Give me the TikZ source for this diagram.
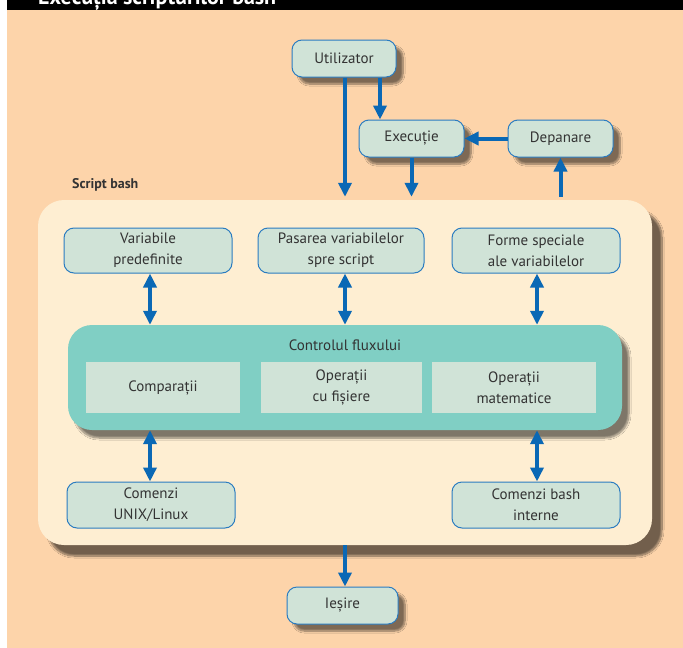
\documentclass[tikz,border=0pt]{standalone}
\usepackage{fontspec}
\setmainfont{PT Sans}
\usetikzlibrary{arrows.meta,shadows.blur}
\definecolor{peach}{HTML}{FDD4AA}
\definecolor{cream}{HTML}{FEEED2}
\definecolor{teal}{HTML}{80CFC4}
\definecolor{nodefill}{HTML}{D0E3D7}
\definecolor{nodeborder}{HTML}{2B7CC0}
\definecolor{arrowcol}{HTML}{0A68B5}
\definecolor{textcol}{HTML}{333333}
\begin{document}
\begin{tikzpicture}[x=1pt,y=-1pt,
  box/.style={draw=nodeborder, line width=1pt, fill=nodefill, rounded corners=10pt,
    align=center, text=textcol, font=\fontsize{15}{21}\selectfont, inner sep=0pt},
  sbox/.style={box, blur shadow={shadow xshift=7pt, shadow yshift=-7pt, shadow blur steps=8, shadow opacity=50}},
  inbox/.style={fill=nodefill, align=center, text=textcol, font=\fontsize{15}{21}\selectfont, inner sep=0pt},
  arr/.style={draw=arrowcol, line width=4pt, -{Triangle[length=14pt,width=13pt]}},
  darr/.style={draw=arrowcol, line width=4pt, {Triangle[length=14pt,width=13pt]}-{Triangle[length=14pt,width=13pt]}}]
\useasboundingbox (0,0) rectangle (683,648);
\fill[white] (0,0) rectangle (683,648);
\fill[peach] (7,10) rectangle (683,648);
\fill[black] (7,0) rectangle (683,10);
\begin{scope}
  \clip (7,0) rectangle (683,10);
  \node[anchor=base west, text=white, font=\bfseries\fontsize{22}{24}\selectfont, inner sep=0pt] (title) at (38,4) {Execuția scripturilor bash};
\end{scope}

% outer script box
\node[fill=cream, rounded corners=26pt, minimum width=614pt, minimum height=345pt, inner sep=0pt,
  blur shadow={shadow xshift=10pt, shadow yshift=-11pt, shadow blur steps=10, shadow opacity=55}] (script) at (345,372.5) {};
\node[anchor=base west, text=textcol, font=\bfseries\fontsize{14}{16}\selectfont, inner sep=0pt] (lbl) at (72,188) {Script bash};

% top nodes
\node[sbox, minimum width=104pt, minimum height=37pt] (util) at (344,58.5) {Utilizator};
\node[sbox, minimum width=105pt, minimum height=37pt] (exec) at (411.5,138.5) {Execuție};
\node[sbox, minimum width=105pt, minimum height=37pt] (dep) at (560.5,138.5) {Depanare};

% inner top nodes
\node[box, minimum width=168pt, minimum height=45pt] (var) at (148,250.5) {Variabile\\predefinite};
\node[box, minimum width=166pt, minimum height=45pt] (pas) at (341,250.5) {Pasarea variabilelor\\spre script};
\node[box, minimum width=168pt, minimum height=45pt] (forme) at (536,250.5) {Forme speciale\\ale variabilelor};

% flow control
\node[fill=teal, rounded corners=24pt, minimum width=554pt, minimum height=105pt, inner sep=0pt,
  blur shadow={shadow xshift=7pt, shadow yshift=-8pt, shadow blur steps=8, shadow opacity=50}] (flux) at (345,377.5) {};
\node[text=textcol, font=\fontsize{15}{17}\selectfont, inner sep=0pt] (fluxlbl) at (345,345) {Controlul fluxului};
\node[inbox, minimum width=154pt, minimum height=51pt] (comp) at (163,387.5) {Comparații};
\node[inbox, minimum width=161pt, minimum height=51pt] (opf) at (341.5,387.5) {Operații\\cu fișiere};
\node[inbox, minimum width=164pt, minimum height=51pt] (opm) at (514,387.5) {Operații\\matematice};

% bottom inner nodes
\node[box, minimum width=168pt, minimum height=46pt] (unix) at (151,505) {Comenzi\\UNIX/Linux};
\node[box, minimum width=168pt, minimum height=46pt] (bashint) at (536,505) {Comenzi bash\\interne};

% output
\node[sbox, minimum width=111pt, minimum height=37pt] (iesire) at (342.5,605.5) {Ieșire};

% arrows
\coordinate (u1) at ([xshift=1pt]util.south);
\coordinate (u2) at ([xshift=36pt]util.south);
\draw[arr] (u1) -- ([yshift=3pt]u1 |- script.north);
\draw[arr] (u2) -- (u2 |- exec.north);
\draw[arr] (exec.south) -- ([yshift=3pt]exec.south |- script.north);
\draw[arr] ([yshift=3pt]dep.south |- script.north) -- (dep.south);
\draw[arr] (dep.west) -- (exec.east);

\draw[darr] ([xshift=2pt]var.south) -- ([xshift=2pt]var.south |- flux.north);
\draw[darr] ([xshift=4pt]pas.south) -- ([xshift=4pt]pas.south |- flux.north);
\draw[darr] ([xshift=1pt]forme.south) -- ([xshift=1pt]forme.south |- flux.north);
\draw[darr] ([xshift=-1pt]unix.north |- flux.south) -- ([xshift=-1pt]unix.north);
\draw[darr] ([xshift=1pt]bashint.north |- flux.south) -- ([xshift=1pt]bashint.north);

\coordinate (o1) at (345,545);
\draw[arr] (o1) -- (o1 |- iesire.north);
\end{tikzpicture}
\end{document}
